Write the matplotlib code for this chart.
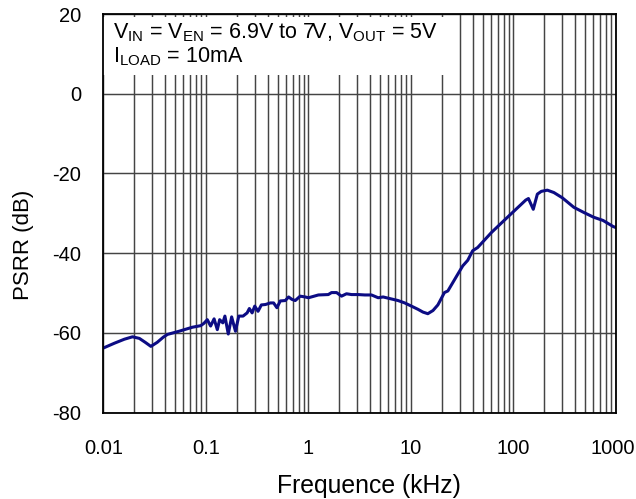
import matplotlib
matplotlib.use("Agg")
import matplotlib.pyplot as plt
import matplotlib.transforms as mtransforms
from matplotlib.patches import Rectangle
from matplotlib.ticker import LogLocator, NullFormatter, FixedLocator, FixedFormatter

plt.rcParams['font.family'] = ['Liberation Sans', 'DejaVu Sans']
plt.rcParams['mathtext.fontset'] = 'custom'
plt.rcParams['mathtext.rm'] = 'Liberation Sans'
plt.rcParams['mathtext.it'] = 'Liberation Sans'
plt.rcParams['mathtext.bf'] = 'Liberation Sans'

# Frequency (kHz) and PSRR (dB)
freq_khz = [0.01, 0.0128, 0.016, 0.0192, 0.0224, 0.0256, 0.029, 0.0334, 0.0383, 0.0421,
            0.0547, 0.0736, 0.0889, 0.0957, 0.103, 0.111, 0.120, 0.129, 0.136, 0.146,
            0.153, 0.165, 0.178, 0.194, 0.209, 0.230, 0.252, 0.265, 0.282, 0.299,
            0.322, 0.347, 0.380, 0.425, 0.457, 0.492, 0.531, 0.594, 0.640, 0.689,
            0.743, 0.830, 0.929, 1.0, 1.25, 1.56, 1.68, 1.88, 2.10, 2.35,
            2.63, 3.06, 3.55, 4.12, 4.79, 5.35, 6.44, 7.48, 8.69, 10.1,
            11.7, 13.1, 14.6, 16.4, 18.3, 21.2, 22.9, 28.6, 32.0, 35.8,
            40.0, 44.7, 61.1, 87.4, 131.6, 140, 156, 171, 187, 214,
            248, 299, 388, 486, 607, 748, 818, 935, 1000]
psrr_db = [-63.8, -62.6, -61.6, -61.0, -61.4, -62.4, -63.4, -62.4, -61.1, -60.4,
           -59.6, -58.6, -58.2, -57.6, -56.7, -58.3, -56.5, -59.2, -56.7, -57.5,
           -55.8, -60.3, -56.0, -59.6, -55.8, -55.8, -55.0, -53.9, -55.0, -53.3,
           -54.6, -53.0, -52.9, -52.5, -52.5, -53.7, -52.0, -51.9, -51.0, -51.6,
           -51.9, -50.8, -51.0, -51.2, -50.5, -50.4, -49.9, -49.9, -50.8, -50.2,
           -50.4, -50.4, -50.5, -50.5, -51.2, -51.0, -51.5, -51.9, -52.5, -53.3,
           -54.1, -54.8, -55.2, -54.4, -53.0, -49.9, -49.5, -45.3, -43.2, -41.8,
           -39.4, -38.6, -34.8, -31.0, -26.7, -26.3, -29.0, -25.2, -24.5, -24.2,
           -24.8, -26.1, -28.5, -29.8, -31.0, -31.8, -32.4, -33.3, -33.6]

x_ticks = [0.01, 0.1, 1, 10, 100, 1000]
x_labels = ["0.01", "0.1", "1", "10", "100", "1000"]
y_ticks = [-80, -60, -40, -20, 0, 20]
y_labels = ["-80", "-60", "-40", "-20", "0", "20"]

fig = plt.figure(figsize=(6.36, 4.99), dpi=100)
ax = fig.add_axes([0.1627, 0.1733, 0.8058, 0.7986])
ax.set_xscale('log')
ax.set_xlim(0.01, 1000)
ax.set_ylim(-80, 20)

ax.xaxis.set_major_locator(FixedLocator(x_ticks))
ax.xaxis.set_major_formatter(FixedFormatter(x_labels))
ax.xaxis.set_minor_locator(LogLocator(base=10, subs=range(2, 10), numticks=50))
ax.xaxis.set_minor_formatter(NullFormatter())
ax.yaxis.set_major_locator(FixedLocator(y_ticks))
ax.yaxis.set_major_formatter(FixedFormatter(y_labels))

ax.set_axisbelow(True)
ax.grid(True, which='both', axis='x', color='#444444', linewidth=1.05)
ax.grid(True, which='major', axis='y', color='#444444', linewidth=1.05)
ax.tick_params(axis='both', which='both', length=0, labelsize=14.5)
ax.tick_params(axis='y', pad=16)
ax.tick_params(axis='x', pad=19)

for s in ax.spines.values():
    s.set_linewidth(1.3)
    s.set_color('black')

# White box behind the condition text
ax.add_patch(Rectangle((0.0, 0.847), 0.676, 0.1455, transform=ax.transAxes,
                       facecolor='white', edgecolor='none', zorder=1.5))

ax.plot(freq_khz, psrr_db, color='#0c0c84', linewidth=2.2, zorder=2)

ax.text(0.018, 0.94, r"V$_{\mathrm{IN}}$ = V$_{\mathrm{EN}}$ = 6.9V to 7V, V$_{\mathrm{OUT}}$ = 5V",
        transform=ax.transAxes, fontsize=15.5, ha='left', va='baseline', zorder=3)
ax.text(0.018, 0.878, r"I$_{\mathrm{LOAD}}$ = 10mA",
        transform=ax.transAxes, fontsize=15.5, ha='left', va='baseline', zorder=3)

ax.set_xlabel("Frequence (kHz)", fontsize=17.8, labelpad=12)
ax.xaxis.set_label_coords(0.518, -0.155)
ax.xaxis.label.set_va('top')
ax.set_ylabel("PSRR (dB)", fontsize=16, labelpad=10)
ax.yaxis.set_label_coords(-0.135, 0.42)

fig.canvas.draw()
last = ax.get_xticklabels()[-1]
last.set_transform(last.get_transform() +
                   mtransforms.ScaledTranslation(-3 / 100, 0, fig.dpi_scale_trans))

fig.savefig("out.png", dpi=100)
